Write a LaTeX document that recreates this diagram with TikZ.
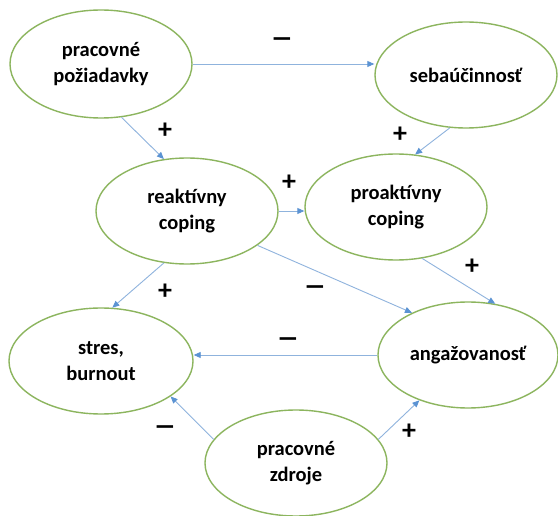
\documentclass[tikz,border=0pt]{standalone}
\usepackage{fontspec}
\usepackage{graphicx}
\setmainfont{Carlito}
\usetikzlibrary{shapes.geometric,arrows.meta}
\definecolor{ellgreen}{HTML}{8CB55E}
\definecolor{arrline}{HTML}{8FB3DD}
\definecolor{arrhead}{HTML}{5B93D3}
\newcommand{\bigminus}{\scalebox{1.55}[1]{–}}
\tikzset{
  oval/.style={ellipse, draw=ellgreen, line width=1.4pt, fill=white,
    minimum width=182pt, minimum height=106pt, inner sep=0pt,
    align=center, font=\fontsize{20.5}{26.5}\selectfont\bfseries},
  conn/.style={draw=arrline, line width=0.9pt,
    -{Triangle[length=7pt,width=6pt,color=arrhead]}},
  sign/.style={inner sep=0pt, font=\fontsize{28}{28}\selectfont\bfseries},
  msign/.style={inner sep=0pt, font=\fontsize{30}{30}\selectfont\bfseries},
}
\begin{document}
\begin{tikzpicture}[x=1pt,y=-1pt]
\fill[white] (0,0) rectangle (558,516);
\useasboundingbox (0,0) rectangle (558,516);

\node[oval, minimum height=108pt] (pp) at (101,64) {pracovné\\požiadavky};
\node[oval] (se) at (466,75) {sebaúčinnosť};
\node[oval] (rc) at (187,211) {reaktívny\\coping};
\node[oval] (pc) at (396,207) {proaktívny\\coping};
\node[oval, minimum width=184pt] (sb) at (101,361) {stres,\\burnout};
\node[oval, minimum width=180pt] (an) at (468,355) {angažovanosť};
\node[oval] (pz) at (296,463) {pracovné\\zdroje};

\draw[conn] (pp.east) -- (pp.east -| se.west);
\draw[conn] (pp.-69) -- (rc.114);
\draw[conn] (se.-107) -- (pc.70);
\draw[conn] (rc.east) -- (rc.east -| pc.west);
\draw[conn] (rc.-114) -- (sb.78);
\draw[conn] (rc.-26) -- (an.143);
\draw[conn] (pc.-63) -- (an.62);
\draw[conn] (an.west) -- (an.west -| sb.east);
\draw[conn] (pz.164) -- (sb.-27);
\draw[conn] (pz.16) -- (an.-137);

\node[msign] (s1) at (282,43) {\bigminus};
\node[sign] (s2) at (165,131) {+};
\node[sign] (s3) at (400,135) {+};
\node[sign] (s4) at (289,183) {+};
\node[sign] (s5) at (165,292) {+};
\node[msign] (s6) at (315,291) {\bigminus};
\node[sign] (s7) at (472,267) {+};
\node[msign] (s8) at (288,343) {\bigminus};
\node[msign] (s9) at (165,431) {\bigminus};
\node[sign] (s10) at (409,432) {+};
\end{tikzpicture}
\end{document}
